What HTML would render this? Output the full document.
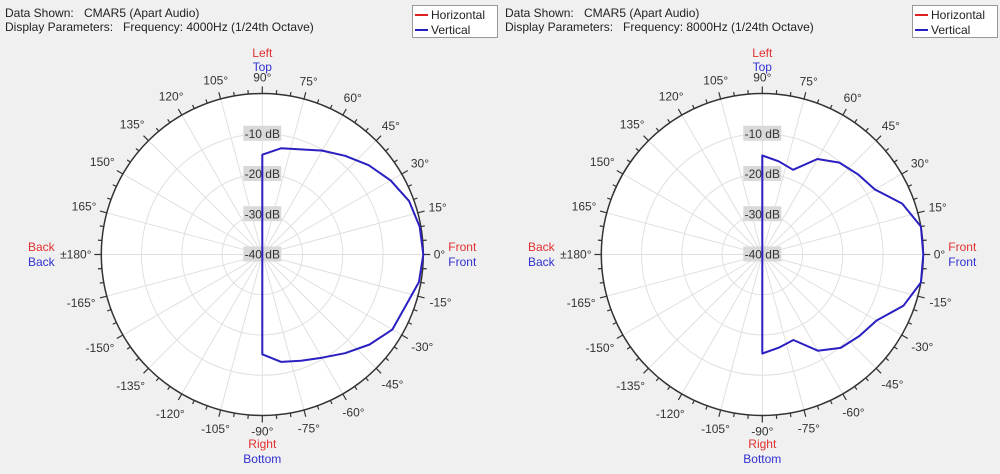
<!DOCTYPE html>
<html><head><meta charset="utf-8"><style>
body{margin:0;background:#f0f0f0;font-family:"Liberation Sans",sans-serif;}
svg text{font-family:"Liberation Sans",sans-serif;}
</style></head><body>
<svg id="svg" width="1000" height="469" viewBox="0 0 1000 469">
<rect width="1000" height="469" fill="#f0f0f0"/>
</svg>
<script>
const angles = [-90,-80,-70,-60,-50,-40,-30,-20,-10,0,10,20,30,40,50,60,70,80,90];
const vert4000 = [-15.2,-12.9,-11.9,-10.4,-8,-5.2,-2.7,-2.2,-0.5,0,-0.3,-1.2,-3.2,-5.5,-8,-10.2,-12.2,-13.2,-15.2];
const vert8000 = [-15.4,-16.5,-17.4,-12.4,-9.7,-8.5,-7.2,-2.7,0,0,0,-3,-7.7,-9,-10.2,-12.6,-17.6,-16.5,-15.4];
const dbTicks = [-10,-20,-30,-40];
const freqLabels = ["4000Hz","8000Hz"];

const NS="http://www.w3.org/2000/svg";
const svg=document.getElementById('svg');
function mk(tag,attrs,parent,text){const e=document.createElementNS(NS,tag);for(const k in attrs)e.setAttribute(k,attrs[k]);if(text!==undefined)e.textContent=text;(parent||svg).appendChild(e);return e;}

function chart(ox,cx,cy,series,freq,idx){
  const R=161, dbMin=-40, dbMax=0;
  const rScale=db=>(db-dbMin)/(dbMax-dbMin)*R;
  const pt=(a,db)=>{const t=a*Math.PI/180,r=rScale(db);return [cx+r*Math.cos(t),cy-r*Math.sin(t)];};
  const g=mk('g',{});
  
  
  const h=mk('text',{x:ox+5,y:17,'font-size':12,fill:'#222'},g);
  
  
  h.innerHTML='Data Shown:<tspan x="'+(ox+84)+'">CMAR5 (Apart Audio)</tspan>';
  const h2=mk('text',{x:ox+5,y:31,'font-size':12,fill:'#222'},g);
  
  
  h2.innerHTML='Display Parameters:<tspan x="'+(ox+123)+'">Frequency: '+freq+' (1/24th Octave)</tspan>';
  const lg=mk('g',{},g);
  
  
  mk('rect',{x:ox+412.5,y:5.5,width:85,height:32,fill:'#fff',stroke:'#999'},lg);
  mk('line',{x1:ox+415,x2:ox+428,y1:15,y2:15,stroke:'#e02020','stroke-width':2},lg);
  const l1=mk('text',{x:ox+431,y:19,'font-size':12,fill:'#222'},lg,'Horizontal');
  
  
  mk('line',{x1:ox+415,x2:ox+428,y1:30,y2:30,stroke:'#2020c0','stroke-width':2},lg);
  const l2=mk('text',{x:ox+431,y:34,'font-size':12,fill:'#222'},lg,'Vertical');
  
  
  mk('circle',{cx:cx,cy:cy,r:R,fill:'#fff'},g);
  for(let a=0;a<360;a+=15){const t=a*Math.PI/180;mk('line',{x1:cx,y1:cy,x2:cx+R*Math.cos(t),y2:cy-R*Math.sin(t),stroke:'#e0e0e0','stroke-width':1},g);}
  dbTicks.forEach(d=>{if(d>dbMin)mk('circle',{cx:cx,cy:cy,r:rScale(d),fill:'none',stroke:'#e0e0e0'},g);});
  mk('circle',{cx:cx,cy:cy,r:R,fill:'none',stroke:'#333','stroke-width':1.5},g);
  for(let a=0;a<360;a+=5){const t=a*Math.PI/180,L=a%15===0?7:4;
    mk('line',{x1:cx+R*Math.cos(t),y1:cy-R*Math.sin(t),x2:cx+(R+L)*Math.cos(t),y2:cy-(R+L)*Math.sin(t),stroke:'#333','stroke-width':1.2},g);}
  for(let a=-165;a<=180;a+=15){
    const t=a*Math.PI/180;let txt=a===180?'±180°':a+'°';
    const w=txt.length*6.2;
    const rr=171+(w/2)*Math.abs(Math.cos(t))+6*Math.abs(Math.sin(t));
    const tx=mk('text',{x:cx+rr*Math.cos(t),y:cy-rr*Math.sin(t)+4,'font-size':12,fill:'#333','text-anchor':'middle'},g,txt);
    
    
  }
  dbTicks.forEach(d=>{const y=cy-rScale(d);
    mk('rect',{x:cx-19,y:y-8,width:38,height:15,fill:'#d9d9d9'},g);
    const t=mk('text',{x:cx,y:y+4,'font-size':12,fill:'#333','text-anchor':'middle'},g,d+' dB');
    
    });
  const dl=[['Left',cx,57,'#e03030'],['Top',cx,71,'#3030d0'],['Right',cx,448,'#e03030'],['Bottom',cx,463,'#3030d0'],
    ['Front',cx+186,251,'#e03030','start'],['Front',cx+186,266,'#3030d0','start'],['Back',cx-221,251,'#e03030','middle'],['Back',cx-221,266,'#3030d0','middle']];
  dl.forEach(d=>{const t=mk('text',{x:d[1],y:d[2],'font-size':12,fill:d[3],'text-anchor':d[4]||'middle'},g,d[0]);
    
    });
  const pts=angles.map((a,i)=>pt(a,series[i]).map(v=>v.toFixed(1)).join(',')).join(' ');
  const p=mk('polygon',{points:pts,fill:'none',stroke:'#2a1fc0','stroke-width':2,'stroke-linejoin':'round'},g);
  
  
}
chart(0,262.3,254.5,vert4000,freqLabels[0],1);
chart(500,762.3,254.5,vert8000,freqLabels[1],2);
</script>
</body></html>
